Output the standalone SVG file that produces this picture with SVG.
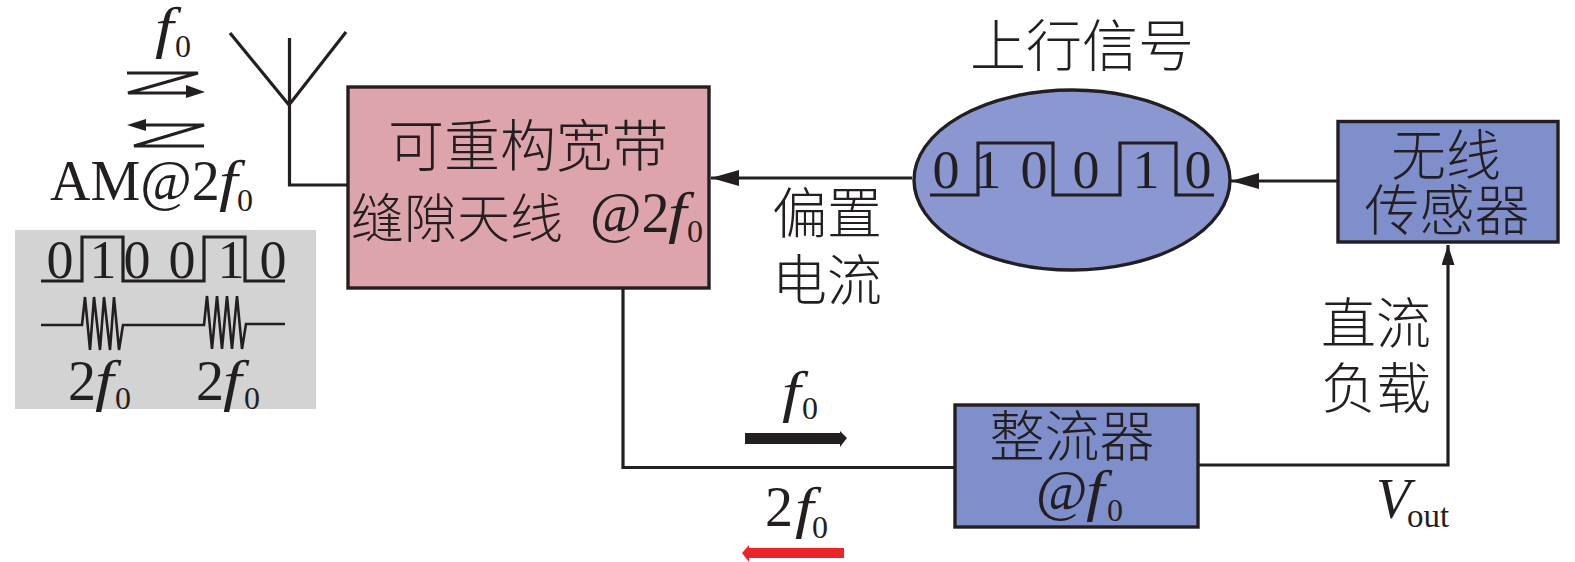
<svg xmlns="http://www.w3.org/2000/svg" width="1575" height="562" viewBox="0 0 1575 562">
<defs>
<style>
.ln{fill:none;stroke:#231f20;stroke-width:3.2;stroke-linejoin:miter}
.box{stroke:#231f20;stroke-width:3.4}
.t{font-family:"Liberation Serif",serif;font-size:56px;fill:#231f20}
.d{font-family:"Liberation Serif",serif;font-size:54px;fill:#231f20;text-anchor:middle}
.c{font-family:"Noto Sans CJK SC","Liberation Serif",sans-serif;font-size:55px;font-weight:300;fill:#231f20;text-anchor:middle}
.i{font-style:italic}
.s{font-size:32px}
</style>
<marker id="ah" markerUnits="userSpaceOnUse" markerWidth="28" markerHeight="16" refX="28" refY="8" orient="auto"><path d="M0 0L28 8L0 16Z" fill="#231f20"/></marker>
<marker id="ahs" markerUnits="userSpaceOnUse" markerWidth="20" markerHeight="13" refX="20" refY="6.500" orient="auto"><path d="M0 0L20 6.500L0 13Z" fill="#231f20"/></marker>
</defs>
<rect width="1575" height="562" fill="#fff"/>
<g id="connectors">
<path class="ln" d="M230 33L289 105L346 32M289.500 38V185H348"/>
<path class="ln" d="M912 178H711" marker-end="url(#ah)"/>
<path class="ln" d="M1339 181H1231" marker-end="url(#ah)"/>
<path class="ln" d="M1197 465H1448V245" marker-end="url(#ahs)"/>
<path class="ln" d="M623 288V467.500H955"/>
</g>
<g id="signal-f0">
<path class="ln" d="M127 73H198L128 93H190"/>
<path d="M186 85L205 92L186 98Z" fill="#231f20"/>
<text class="t i" transform="translate(155 47) scale(1.2 1)">f</text><text class="d s" x="183" y="57">0</text>
</g>
<g id="signal-am">
<path class="ln" d="M204 146H134L204 125H140"/>
<path d="M127 125L146 119V131Z" fill="#231f20"/>
<text class="t" x="50" y="200">AM@2</text><text class="t i" transform="translate(219 200) scale(1.2 1)">f</text><text class="d s" x="245" y="211">0</text>
</g>
<g id="am-panel">
<rect x="15" y="230" width="301" height="179" fill="#d3d3d3"/>
<path class="ln" d="M41 281H82V237H123V281H204V237H245V281H285"/>
<text class="d" x="60" y="278">0</text><text class="d" x="103" y="278">1</text><text class="d" x="137" y="278">0</text><text class="d" x="182" y="278">0</text><text class="d" x="231" y="278">1</text><text class="d" x="273" y="278">0</text>
<path class="ln" d="M41 325H82L85 297L90 350L94 297L100 350L104 297L110 350L114 297L119 350L123 325H204L207 296L212 349L217 296L222 349L227 296L232 349L237 296L242 349L246 324H285" style="stroke-width:2.6"/>
<text class="t" x="68" y="400">2</text><text class="t i" transform="translate(95 400) scale(1.2 1)">f</text><text class="d s" x="123" y="409">0</text>
<text class="t" x="196" y="400">2</text><text class="t i" transform="translate(223 400) scale(1.2 1)">f</text><text class="d s" x="252" y="409">0</text>
</g>
<g id="antenna-box">
<rect class="box" x="348" y="87" width="361" height="201" fill="#dea4ab"/>
<text class="c" x="528" y="166" style="font-size:56px">可重构宽带</text>
<text class="c" x="457" y="238" style="font-size:53px">缝隙天线</text>
<text class="t" x="590" y="232">@2</text><text class="t i" transform="translate(668 232) scale(1.2 1)">f</text><text class="d s" x="695" y="242">0</text>
</g>
<g id="uplink">
<text class="c" x="1082" y="66" style="font-size:56px">上行信号</text>
<ellipse class="box" cx="1072" cy="180" rx="158" ry="90" fill="#8a97d0"/>
<path class="ln" d="M930 195H978V143H1053V195H1120V143H1176V195H1214"/>
<text class="d" x="946" y="188">0</text><text class="d" x="988" y="188">1</text><text class="d" x="1034" y="188">0</text><text class="d" x="1086" y="188">0</text><text class="d" x="1146" y="188">1</text><text class="d" x="1198" y="188">0</text>
</g>
<g id="bias-label">
<text class="c" x="827" y="233">偏置</text>
<text class="c" x="827" y="300">电流</text>
</g>
<g id="sensor">
<rect class="box" x="1338" y="121.500" width="220" height="120.500" fill="#7f8fcc"/>
<text class="c" x="1446" y="175">无线</text>
<text class="c" x="1447" y="230">传感器</text>
</g>
<g id="rectifier">
<rect class="box" x="955" y="405" width="243" height="122" fill="#7f8fcc"/>
<text class="c" x="1072" y="456">整流器</text>
<text class="t" x="1036" y="510">@</text><text class="t i" transform="translate(1086 510) scale(1.2 1)">f</text><text class="d s" x="1115" y="521">0</text>
</g>
<g id="dc-load">
<text class="c" x="1376" y="343">直流</text>
<text class="c" x="1376" y="408">负载</text>
<text class="t i" x="1376" y="518">V</text><text class="d" x="1428" y="527" style="font-size:33px">out</text>
</g>
<g id="flow-f0">
<text class="t i" transform="translate(782 411) scale(1.2 1)">f</text><text class="d s" x="810" y="419">0</text>
<path d="M745 433H840V431L847 438L840 447V444H745Z" fill="#231f20"/>
</g>
<g id="flow-2f0">
<text class="t" x="765" y="526">2</text><text class="t i" transform="translate(795 527) scale(1.2 1)">f</text><text class="d s" x="820" y="538">0</text>
<path d="M844 548H749V545L742 553L749 562V558H844Z" fill="#ee2329"/>
</g>
</svg>
